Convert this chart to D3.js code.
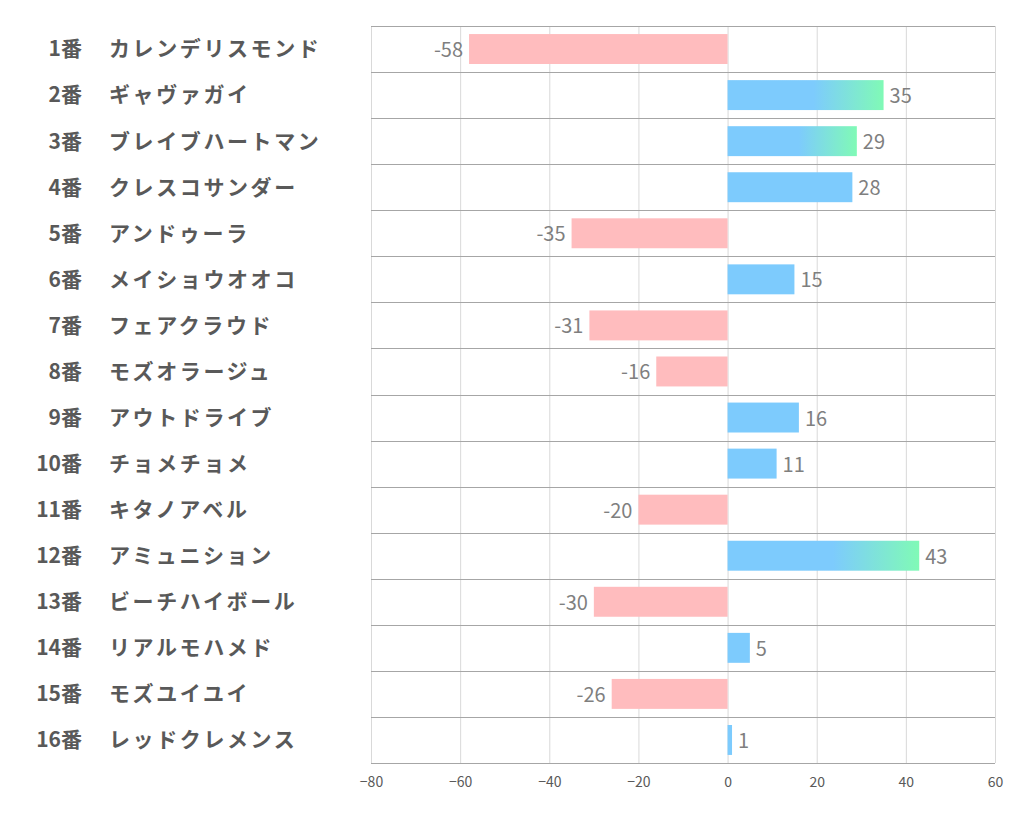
<!DOCTYPE html>
<html><head><meta charset="utf-8">
<script src="https://cdn.jsdelivr.net/npm/d3@7"></script>
<style>body{margin:0;background:#fff;}svg{display:block;}</style>
</head><body>
<svg id="c" width="1022" height="834"></svg>
<script>
const numbers = ["1番","2番","3番","4番","5番","6番","7番","8番","9番","10番","11番","12番","13番","14番","15番","16番"];
const names = ["カレンデリスモンド","ギャヴァガイ","ブレイブハートマン","クレスコサンダー","アンドゥーラ","メイショウオオコ","フェアクラウド","モズオラージュ","アウトドライブ","チョメチョメ","キタノアベル","アミュニション","ビーチハイボール","リアルモハメド","モズユイユイ","レッドクレメンス"];
const values = [-58,35,29,28,-35,15,-31,-16,16,11,-20,43,-30,5,-26,1];
const highlighted = [false,true,true,false,false,false,false,false,false,false,false,true,false,false,false,false];
const xTicks = [-80,-60,-40,-20,0,20,40,60];

const svg = d3.select("#c");
const L = 371, R = 995, T = 26, B = 763;
const x = d3.scaleLinear().domain([-80,60]).range([L,R]);
const y = d3.scaleBand().domain(d3.range(values.length)).range([T,B]).paddingInner(0.35).paddingOuter(0.175);

const defs = svg.append("defs");
const grad = defs.append("linearGradient").attr("id","g").attr("x1","0").attr("x2","1").attr("y1","0").attr("y2","0");
grad.append("stop").attr("offset","0.55").attr("stop-color","#7dcbfd");
grad.append("stop").attr("offset","1").attr("stop-color","#80fab6");

// vertical grid lines
svg.append("g").selectAll("line").data(xTicks).join("line")
  .attr("x1",d=>x(d)+0.5).attr("x2",d=>x(d)+0.5).attr("y1",T).attr("y2",B)
  .attr("stroke","#d9d9d9").attr("stroke-width",1);

// horizontal row lines
const rowB = d3.range(values.length+1).map(i => T + i*(B-T)/values.length);
svg.append("g").selectAll("line").data(rowB).join("line")
  .attr("x1",L).attr("x2",R).attr("y1",d=>Math.round(d)+0.5).attr("y2",d=>Math.round(d)+0.5)
  .attr("stroke","#a6a6a6").attr("stroke-width",1);

// bars
svg.append("g").selectAll("rect").data(values).join("rect")
  .attr("x",d=>x(Math.min(0,d))).attr("width",d=>Math.abs(x(d)-x(0)))
  .attr("y",(d,i)=>y(i)).attr("height",y.bandwidth())
  .attr("fill",(d,i)=> d<0 ? "#ffbcbe" : (highlighted[i] ? "url(#g)" : "#7dcbfd"));

// value labels
svg.append("g").selectAll("text").data(values).join("text")
  .attr("x",d=> d<0 ? x(d)-6 : x(d)+6)
  .attr("y",(d,i)=>y(i)+y.bandwidth()/2+1)
  .attr("dy","0.35em")
  .attr("text-anchor",d=> d<0 ? "end":"start")
  .attr("font-family","'Noto Sans CJK JP', sans-serif").attr("font-size",20)
  .attr("fill","#7f7f7f").text(d=>d);

// category labels
const cat = svg.append("g").attr("font-family","'Noto Sans CJK JP', sans-serif").attr("font-size",21).attr("font-weight","bold").attr("fill","#595959");
cat.selectAll("text.n").data(numbers).join("text").attr("class","n")
  .attr("x",82).attr("y",(d,i)=>y(i)+y.bandwidth()/2).attr("dy","0.35em").attr("text-anchor","end").text(d=>d);
cat.selectAll("text.m").data(names).join("text").attr("class","m")
  .attr("x",109).attr("y",(d,i)=>y(i)+y.bandwidth()/2).attr("dy","0.35em").attr("text-anchor","start")
  .attr("letter-spacing","2.6px").text(d=>d);

// x axis
const ax = svg.append("g").attr("transform",`translate(0,${B})`)
  .call(d3.axisBottom(x).tickValues(xTicks).tickSize(0).tickPadding(14));
ax.select(".domain").remove();
ax.selectAll("text").attr("font-family","'Noto Sans CJK JP', sans-serif").attr("font-size",14).attr("fill","#595959");
</script>
</body></html>
